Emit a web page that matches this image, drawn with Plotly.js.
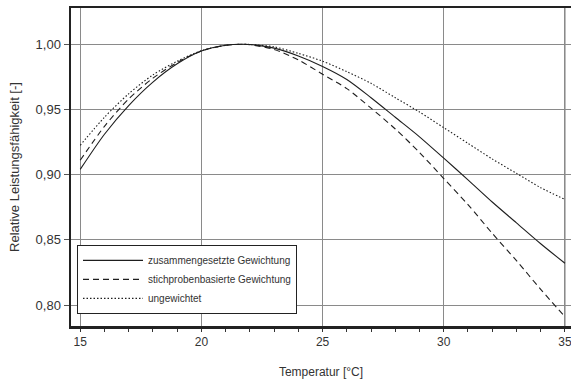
<!DOCTYPE html>
<html>
<head>
<meta charset="utf-8">
<script src="https://cdn.plot.ly/plotly-3.0.1.min.js"></script>
<style>html,body{margin:0;padding:0;background:#fff;}#chart{width:571px;height:380px;}</style>
</head>
<body>
<div id="chart"></div>
<script>
const temperature = [15, 16, 17, 18, 19, 20, 21, 21.7, 22, 23, 24, 25, 26, 27, 28, 29, 30, 31, 32, 33, 34, 35];
const zusammengesetzt = [0.904, 0.931, 0.953, 0.971, 0.985, 0.9948, 0.9992, 1.000, 0.9998, 0.997, 0.991, 0.983, 0.973, 0.959, 0.944, 0.929, 0.9126, 0.896, 0.879, 0.863, 0.847, 0.832];
const stichprobenbasiert = [0.911, 0.937, 0.958, 0.974, 0.986, 0.9948, 0.9992, 1.000, 0.9997, 0.996, 0.988, 0.977, 0.966, 0.951, 0.935, 0.917, 0.897, 0.877, 0.855, 0.834, 0.812, 0.791];
const ungewichtet = [0.9225, 0.944, 0.962, 0.9765, 0.987, 0.995, 0.9992, 1.000, 0.9998, 0.998, 0.993, 0.987, 0.979, 0.970, 0.959, 0.948, 0.936, 0.924, 0.912, 0.901, 0.890, 0.881];
const seriesNames = ['zusammengesetzte Gewichtung', 'stichprobenbasierte Gewichtung', 'ungewichtet'];
const xTickVals = [15, 20, 25, 30, 35];
const yTickVals = [0.80, 0.85, 0.90, 0.95, 1.00];

const lineColor = '#1e1e1e';
const traces = [
  {x: temperature, y: zusammengesetzt, name: seriesNames[0], mode: 'lines', line: {color: lineColor, width: 1.1, dash: 'solid', shape: 'spline', smoothing: 0.8}},
  {x: temperature, y: stichprobenbasiert, name: seriesNames[1], mode: 'lines', line: {color: lineColor, width: 1.1, dash: '6px,4px', shape: 'spline', smoothing: 0.8}},
  {x: temperature, y: ungewichtet, name: seriesNames[2], mode: 'lines', line: {color: lineColor, width: 1.1, dash: '1.5px,2px', shape: 'spline', smoothing: 0.8}}
];

const font = 'Liberation Sans, Arial, sans-serif';
const layout = {
  width: 571, height: 380,
  margin: {l: 71, r: 0, t: 8, b: 54, pad: 0},
  paper_bgcolor: '#fff', plot_bgcolor: '#fff',
  separators: ',.',
  font: {family: font, size: 12, color: '#333'},
  showlegend: true,
  legend: {
    x: 0.012, y: 0.255, xanchor: 'left', yanchor: 'top',
    bgcolor: '#fff', bordercolor: '#222', borderwidth: 1,
    font: {family: font, size: 10, color: '#333'},
    itemwidth: 60, tracegroupgap: 0
  },
  shapes: [
    {type: 'line', xref: 'x', yref: 'paper', x0: xTickVals[4], x1: xTickVals[4], y0: 0, y1: 1, line: {color: '#a0a0a0', width: 1.5}, layer: 'below'}
  ],
  xaxis: {
    range: [14.62, 35.25],
    tickvals: xTickVals, ticktext: xTickVals.map(String),
    ticks: 'outside', ticklen: 3, tickcolor: '#333', tickwidth: 1,
    ticklabeloverflow: 'allow',
    minor: {dtick: 1, ticks: 'outside', ticklen: 3, tickcolor: '#333', showgrid: false},
    showgrid: true, gridcolor: '#8a8a8a', gridwidth: 1,
    showline: true, linecolor: '#222', linewidth: 2.5, mirror: true,
    zeroline: false,
    tickfont: {family: font, size: 12, color: '#333'},
    title: {text: 'Temperatur [°C]', font: {family: font, size: 12, color: '#333'}, standoff: 20}
  },
  yaxis: {
    range: [0.7839, 1.0278],
    tickvals: yTickVals, tickformat: '.2f',
    ticks: 'outside', ticklen: 5, tickcolor: '#555', tickwidth: 1,
    showgrid: true, gridcolor: '#8a8a8a', gridwidth: 1,
    showline: true, linecolor: '#222', linewidth: 2.5, mirror: false,
    zeroline: false,
    tickfont: {family: font, size: 13, color: '#333'},
    title: {text: 'Relative Leistungsfähigkeit [-]', font: {family: font, size: 13, color: '#333'}, standoff: 13}
  }
};

Plotly.newPlot('chart', traces, layout, {displayModeBar: false, staticPlot: true});
</script>
</body>
</html>
